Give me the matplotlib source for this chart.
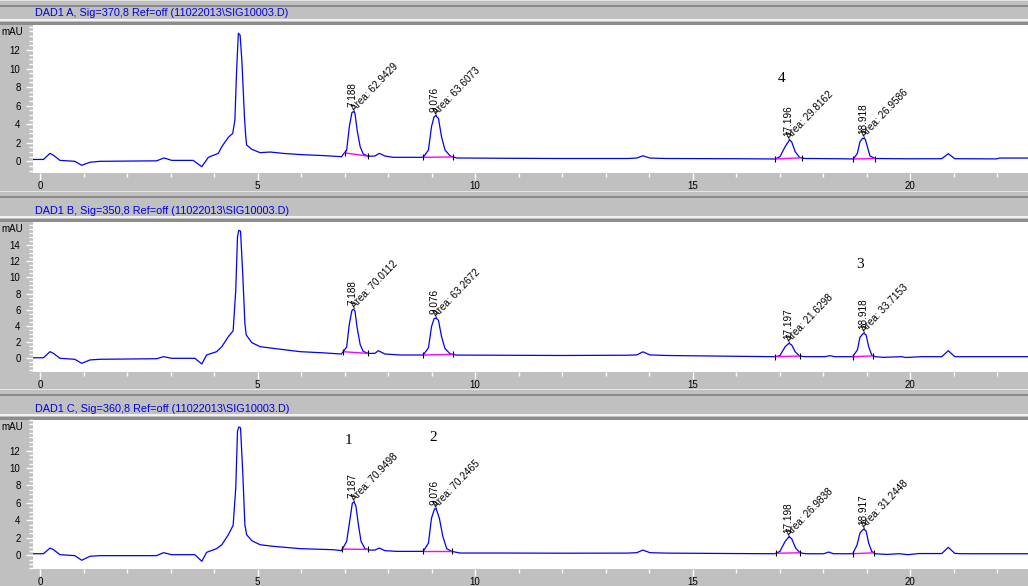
import numpy as np
import matplotlib
matplotlib.use('Agg')
import matplotlib.pyplot as plt
from matplotlib.patches import Rectangle
from matplotlib.ticker import MultipleLocator, FixedLocator

# --- signal A (370,8) ---
a_time = [-0.2, 0.08, 0.23, 0.31, 0.46, 0.8, 0.96, 1.15, 1.38, 2.68, 2.85, 3.03, 3.52, 3.72, 3.87,
          4.10, 4.18, 4.33, 4.43, 4.48, 4.52, 4.56, 4.60, 4.64, 4.70, 4.73, 4.75, 4.87, 5.06, 5.29,
          5.6, 6.0, 6.5, 6.93, 7.05, 7.11, 7.17, 7.20, 7.24, 7.29, 7.36, 7.43, 7.55, 7.70, 7.80,
          7.93, 8.12, 8.81, 8.93, 9.00, 9.06, 9.10, 9.16, 9.23, 9.31, 9.43, 9.58, 10.5, 12.0, 13.5,
          13.72, 13.86, 14.02, 14.4, 16.0, 16.90, 17.01, 17.13, 17.23, 17.28, 17.36, 17.46, 17.59, 17.77, 18.5,
          18.70, 18.79, 18.85, 18.91, 18.97, 19.02, 19.08, 19.20, 20.0, 20.73, 20.88, 21.03, 21.5, 21.99, 22.05,
          22.8]
a_mau = [0.2, 0.2, 0.86, 0.65, 0.1, 0.0, -0.43, -0.1, 0.0, 0.05, 0.36, 0.1, 0.1, -0.58, 0.43,
         0.86, 1.58, 2.59, 3.0, 4.45, 9.8, 13.8, 13.6, 10.9, 4.8, 2.65, 1.76, 1.29, 0.93, 1.0,
         0.85, 0.72, 0.62, 0.5, 1.2, 3.7, 5.24, 5.35, 5.2, 3.37, 1.58, 0.79, 0.55, 0.57, 0.86,
         0.57, 0.43, 0.43, 1.22, 3.73, 4.81, 4.91, 4.63, 2.65, 1.22, 0.57, 0.36, 0.33, 0.3, 0.3,
         0.35, 0.6, 0.35, 0.3, 0.28, 0.25, 0.5, 1.58, 2.3, 2.1, 1.04, 0.43, 0.3, 0.3, 0.27,
         0.25, 0.86, 2.1, 2.48, 2.4, 1.58, 0.57, 0.3, 0.27, 0.28, 0.82, 0.28, 0.27, 0.26, 0.35,
         0.35]
a_rt = ['7.188', '9.076', '17.196', '18.918']
a_area = ['62.9429', '63.6073', '29.8162', '26.9586']
a_int_start = [7.00, 8.81, 16.90, 18.70]
a_int_end = [7.55, 9.50, 17.51, 19.20]

# --- signal B (350,8) ---
b_time = [-0.2, 0.08, 0.23, 0.31, 0.46, 0.8, 0.96, 1.15, 1.38, 2.68, 2.84, 3.03, 3.56, 3.72, 3.83,
          4.06, 4.18, 4.33, 4.44, 4.50, 4.54, 4.57, 4.61, 4.66, 4.71, 4.74, 4.87, 5.06, 5.36, 5.98,
          6.5, 6.93, 7.05, 7.11, 7.17, 7.20, 7.24, 7.29, 7.36, 7.43, 7.55, 7.70, 7.78, 7.93, 8.28,
          8.81, 8.93, 9.00, 9.06, 9.10, 9.16, 9.23, 9.31, 9.43, 9.58, 10.5, 12.0, 13.5, 13.72, 13.86,
          14.02, 14.4, 16.0, 16.90, 17.01, 17.13, 17.22, 17.28, 17.36, 17.46, 17.59, 18.05, 18.16, 18.27, 18.68,
          18.79, 18.85, 18.93, 18.99, 19.05, 19.12, 19.20, 19.39, 19.81, 19.9, 20.27, 20.73, 20.88, 21.03, 21.5,
          22.8]
b_mau = [0.07, 0.07, 0.82, 0.6, 0.0, -0.12, -0.62, -0.2, -0.12, -0.05, 0.2, 0.0, 0.0, -0.7, 0.41,
         0.82, 1.44, 2.67, 3.4, 8.4, 15.0, 15.8, 15.7, 10.5, 4.3, 2.9, 1.93, 1.44, 1.23, 0.82,
         0.68, 0.53, 1.4, 4.2, 5.9, 6.05, 5.85, 3.8, 1.7, 0.85, 0.6, 0.62, 0.94, 0.53, 0.41,
         0.41, 1.3, 3.9, 4.9, 4.97, 4.7, 2.7, 1.2, 0.55, 0.4, 0.38, 0.35, 0.38, 0.42, 0.8,
         0.42, 0.35, 0.25, 0.2, 0.33, 1.44, 1.85, 1.65, 0.82, 0.28, 0.2, 0.2, 0.33, 0.2, 0.2,
         1.02, 2.6, 3.09, 2.9, 1.44, 0.4, 0.2, 0.12, 0.2, 0.1, 0.2, 0.2, 0.94, 0.2, 0.2,
         0.2]
b_rt = ['7.188', '9.076', '17.197', '18.918']
b_area = ['70.0112', '63.2672', '21.6298', '33.7153']
b_int_start = [6.97, 8.81, 16.90, 18.68]
b_int_end = [7.55, 9.50, 17.46, 19.16]

# --- signal C (360,8) ---
c_time = [-0.2, 0.08, 0.23, 0.31, 0.46, 0.8, 0.96, 1.15, 1.38, 2.68, 2.84, 3.03, 3.56, 3.72, 3.83,
          4.06, 4.18, 4.33, 4.44, 4.50, 4.54, 4.57, 4.61, 4.66, 4.71, 4.75, 4.87, 5.06, 5.36, 5.98,
          6.74, 6.93, 7.05, 7.13, 7.18, 7.22, 7.26, 7.32, 7.38, 7.47, 7.58, 7.70, 7.80, 7.93, 8.2,
          8.81, 8.93, 9.00, 9.07, 9.11, 9.18, 9.26, 9.35, 9.46, 9.66, 10.57, 12.0, 13.5, 13.72, 13.86,
          14.02, 14.4, 16.0, 16.90, 17.01, 17.13, 17.22, 17.28, 17.37, 17.47, 17.59, 18.02, 18.13, 18.24, 18.68,
          18.78, 18.85, 18.93, 18.99, 19.05, 19.12, 19.20, 19.46, 19.76, 19.95, 20.2, 20.73, 20.88, 21.03, 21.2,
          22.8]
c_mau = [0.18, 0.18, 0.83, 0.64, 0.07, -0.04, -0.57, -0.11, -0.04, -0.04, 0.3, 0.07, 0.07, -0.69, 0.34,
         0.76, 1.21, 2.36, 3.43, 7.7, 14.2, 14.7, 14.6, 9.6, 3.5, 2.36, 1.67, 1.21, 1.03, 0.76,
         0.64, 0.53, 1.6, 4.26, 5.98, 6.1, 5.7, 3.5, 1.6, 0.76, 0.6, 0.6, 0.83, 0.53, 0.45,
         0.45, 1.4, 4.26, 5.33, 5.3, 4.26, 2.17, 0.76, 0.45, 0.26, 0.26, 0.24, 0.25, 0.3, 0.6,
         0.3, 0.25, 0.2, 0.18, 0.45, 1.6, 2.13, 1.9, 0.83, 0.3, 0.18, 0.18, 0.37, 0.18, 0.18,
         1.14, 2.55, 3.0, 2.8, 1.4, 0.45, 0.18, 0.1, 0.18, 0.07, 0.2, 0.2, 0.91, 0.22, 0.18,
         0.18]
c_rt = ['7.187', '9.076', '17.198', '18.917']
c_area = ['70.9498', '70.2465', '26.9838', '31.2448']
c_int_start = [6.95, 8.81, 16.92, 18.68]
c_int_end = [7.53, 9.46, 17.48, 19.17]

W, H = 1028, 586
GRAY = '#c0c0c0'
SANS = 'Liberation Sans'

fig = plt.figure(figsize=(W / 100, H / 100), dpi=100, facecolor=GRAY)


def band(y0, y1, color):
    # horizontal stripe in pixel rows y0..y1 (from the top)
    fig.add_artist(Rectangle((0, 1 - y1 / H), 1, (y1 - y0) / H, transform=fig.transFigure,
                             facecolor=color, edgecolor='none', zorder=0))


def panel(top, bottom, sep, title, ylim, yticks, times, mau, rts, areas, i_start, i_end):
    band(sep - 5, sep - 4, '#e4e4e4')
    band(sep, sep + 2, '#8c8c8c')
    band(top - 6, top - 4, '#f2f2f2')
    band(top - 3, top, '#8c8c8c')
    fig.text(35 / W, 1 - (top - 11.5) / H, title, color='#0000ee', fontsize=7.8,
             family=SANS, va='center', ha='left')
    fig.text(23 / W, 1 - (top + 7) / H, 'mAU', fontsize=7, family=SANS, va='center', ha='right')

    ax = fig.add_axes([33 / W, 1 - bottom / H, 1 - 33 / W, (bottom - top) / H])
    ax.set_facecolor('white')
    for s in ax.spines.values():
        s.set_visible(False)
    ax.plot(times, mau, color='#0000ff', lw=0.9, zorder=3)
    ax.set_xlim((33 - 40) / 43.5, (1028 - 40) / 43.5)
    ax.set_ylim(ylim)

    ax.xaxis.set_major_locator(MultipleLocator(5))
    ax.xaxis.set_minor_locator(MultipleLocator(1))
    ax.yaxis.set_major_locator(FixedLocator(yticks))
    ax.yaxis.set_minor_locator(MultipleLocator(0.5))
    ax.tick_params(which='both', color='white', labelcolor='black', labelsize=7)
    ax.tick_params(which='major', length=5, width=1)
    ax.tick_params(which='minor', length=3, width=1)
    ax.tick_params(axis='x', pad=0.8)
    ax.tick_params(axis='y', pad=4)
    ax.xaxis.set_major_formatter(plt.FuncFormatter(lambda v, p: '%d' % v))
    ax.yaxis.set_major_formatter(plt.FuncFormatter(lambda v, p: '%d' % v))
    for lab in ax.get_xticklabels() + ax.get_yticklabels():
        lab.set_family(SANS)

    t = np.array(times)
    m = np.array(mau)
    for rt, area, s, e in zip(rts, areas, i_start, i_end):
        rtv = float(rt)
        near = (t > rtv - 0.12) & (t < rtv + 0.12)
        apex = m[near].max()
        yb = np.interp([s, e], t, m)
        ax.plot([s, e], yb, color='#ff00ff', lw=1.0, zorder=4)
        ax.plot([s, e], yb, ls='none', marker='|', ms=4, mew=0.8, color='black', zorder=5)
        ax.annotate(rt, xy=(rtv, apex), xytext=(0, 3), textcoords='offset points',
                    rotation=90, ha='center', va='bottom', fontsize=7.2, family=SANS)
        ax.annotate('Area: ' + area, xy=(rtv, apex), xytext=(2.5, -1), textcoords='offset points',
                    rotation=46, rotation_mode='anchor', ha='left', va='bottom',
                    fontsize=7.2, family=SANS)
    return ax


ax_a = panel(25, 173, 5, 'DAD1 A, Sig=370,8 Ref=off (11022013\\SIG10003.D)',
             (-1.26, 14.69), [0, 2, 4, 6, 8, 10, 12],
             a_time, a_mau, a_rt, a_area, a_int_start, a_int_end)
ax_b = panel(222, 372, 196, 'DAD1 B, Sig=350,8 Ref=off (11022013\\SIG10003.D)',
             (-1.69, 16.83), [0, 2, 4, 6, 8, 10, 12, 14],
             b_time, b_mau, b_rt, b_area, b_int_start, b_int_end)
ax_c = panel(420, 569, 394, 'DAD1 C, Sig=360,8 Ref=off (11022013\\SIG10003.D)',
             (-1.57, 15.5), [0, 2, 4, 6, 8, 10, 12],
             c_time, c_mau, c_rt, c_area, c_int_start, c_int_end)

# peak numbers written on the printout
serif = dict(fontsize=11, family='Liberation Serif', ha='center', va='center')
ax_a.text(17.05, 8.94, '4', **serif)
ax_b.text(18.85, 11.64, '3', **serif)
ax_c.text(7.09, 13.2, '1', **serif)
ax_c.text(9.04, 13.5, '2', **serif)

fig.savefig('out.png', dpi=100, facecolor=fig.get_facecolor())
